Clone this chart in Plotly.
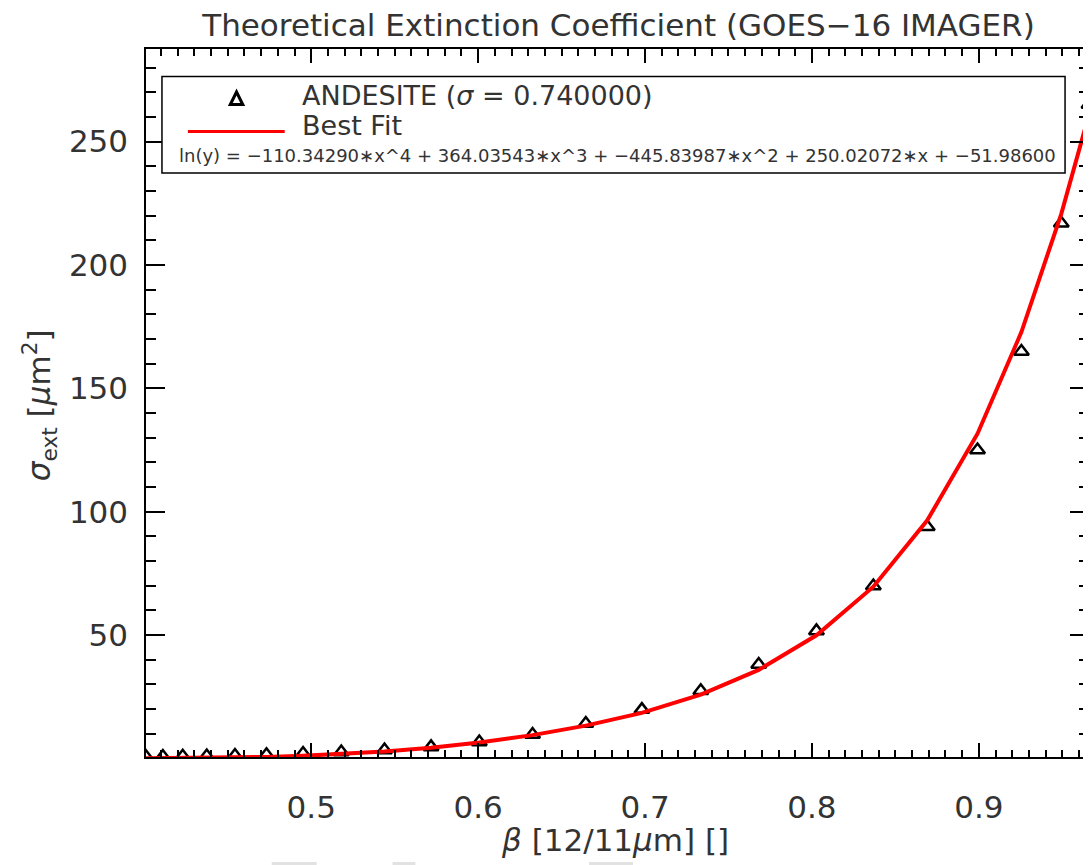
import plotly.graph_objects as go

beta = [0.401, 0.4111, 0.4230, 0.4374, 0.4543, 0.4732, 0.4951, 0.5180, 0.5439,
        0.5718, 0.6007, 0.6326, 0.6645, 0.6981, 0.7334, 0.7681, 0.8027, 0.8368,
        0.8691, 0.8992, 0.9255, 0.9494, 0.966]
sigma_ext = [0.7, 0.8, 0.9, 1.0, 1.2, 1.5, 2.0, 2.6, 3.4,
             4.7, 6.7, 9.7, 14.2, 19.8, 27.4, 38.1, 51.7, 69.9,
             93.9, 125.0, 164.9, 216.9, 265.0]
best_fit = [0.063, 0.090, 0.138, 0.223, 0.373, 0.626, 1.07, 1.73, 2.79,
            4.34, 6.45, 9.46, 13.3, 18.5, 25.9, 35.9, 49.9, 69.6,
            96.5, 131.6, 172.8, 220.7, 261.0]

series_name = "ANDESITE (<i>σ</i> = 0.740000)"
fit_name = "Best Fit"
fit_text = ("ln(y) = −110.34290∗x^4 + 364.03543∗x^3 + −445.83987∗x^2 + "
            "250.02072∗x + −51.98600")

FONT = "DejaVu Sans"
TXT = "#333333"
OFF = 8  # the page body adds an 8px margin, so work in screen pixels minus that
W, H = 1091 - OFF, 865 - OFF
L, R, T, B = 146 - OFF, 0, 49 - OFF, 108
PW, PH = W - L - R, H - T - B


def px(x):
    return (x - OFF - L) / PW


def py(y):
    return (H - B - (y - OFF)) / PH


fig = go.Figure()
fig.add_trace(go.Scatter(
    x=beta, y=sigma_ext, mode="markers", name=series_name,
    marker=dict(symbol="triangle-up-open", size=13, color="black",
                line=dict(color="black", width=2.5)),
    showlegend=False,
))
fig.add_trace(go.Scatter(
    x=beta, y=best_fit, mode="lines", name=fit_name,
    line=dict(color="#ff0000", width=4),
    showlegend=False,
))

axis_common = dict(
    showline=True, linecolor="black", linewidth=1.5, mirror="ticks",
    ticks="inside", tickcolor="black", tickwidth=1.5,
    showgrid=False, zeroline=False,
    tickfont=dict(family=FONT, size=31, color=TXT),
)
fig.update_xaxes(range=[0.401, 0.966], tick0=0, dtick=0.1, ticklen=14,
                 minor=dict(dtick=0.01, ticklen=7, ticks="inside",
                            tickcolor="black", tickwidth=1.5, showgrid=False),
                 ticklabelstandoff=22, **axis_common)
fig.update_yaxes(range=[0.6, 287.5], tick0=0, dtick=50, ticklen=19,
                 minor=dict(dtick=10, ticklen=10, ticks="inside",
                            tickcolor="black", tickwidth=1.5, showgrid=False),
                 ticklabelstandoff=10, **axis_common)

shapes = [
    # legend frame
    dict(type="rect", xref="paper", yref="paper",
         x0=px(162), x1=px(1067), y0=py(173), y1=py(76.5),
         line=dict(color="black", width=1.5), fillcolor="white", layer="above"),
    # legend symbol (triangle)
    dict(type="path", xref="paper", yref="paper",
         path="M {:.4f},{:.4f} L {:.4f},{:.4f} L {:.4f},{:.4f} Z".format(
             px(230.5), py(104.5), px(243), py(104.5), px(236.7), py(92)),
         line=dict(color="black", width=3), layer="above"),
    # legend line
    dict(type="line", xref="paper", yref="paper",
         x0=px(188), x1=px(285), y0=py(131.5), y1=py(131.5),
         line=dict(color="#ff0000", width=3), layer="above"),
]
# faint grey strips along the bottom edge of the original image
for x0, x1 in [(272, 317), (393, 416), (590, 634)]:
    shapes.append(dict(type="rect", xref="paper", yref="paper",
                       x0=px(x0), x1=px(x1), y0=py(865), y1=py(862),
                       line=dict(width=0), fillcolor="#e2e2e2"))

annotations = [
    dict(text=series_name, x=px(300), y=py(96), xref="paper", yref="paper",
         xanchor="left", yanchor="middle", showarrow=False,
         font=dict(family=FONT, size=27, color=TXT)),
    dict(text=fit_name, x=px(300), y=py(125), xref="paper", yref="paper",
         xanchor="left", yanchor="middle", showarrow=False,
         font=dict(family=FONT, size=27, color=TXT)),
    dict(text=fit_text, x=px(177), y=py(155), xref="paper", yref="paper",
         xanchor="left", yanchor="middle", showarrow=False,
         font=dict(family=FONT, size=18, color=TXT)),
    dict(text="<i>β</i> [12/11<i>μ</i>m] []", x=px(616), y=py(840),
         xref="paper", yref="paper", xanchor="center", yanchor="middle",
         showarrow=False, font=dict(family=FONT, size=31, color=TXT)),
    dict(text="<i>σ</i><sub>ext</sub> [<i>μ</i>m<sup>2</sup>]", x=px(40), y=py(405),
         xref="paper", yref="paper", xanchor="center", yanchor="middle",
         textangle=-90, showarrow=False,
         font=dict(family=FONT, size=31, color=TXT)),
]

fig.update_layout(
    width=W, height=H,
    margin=dict(l=L, r=R, t=T, b=B),
    paper_bgcolor="white", plot_bgcolor="white",
    title=dict(text="Theoretical Extinction Coefficient (GOES−16 IMAGER)",
               x=px(619.5), xref="paper", xanchor="center",
               y=1 - (25 - OFF) / H, yref="container", yanchor="middle",
               font=dict(family=FONT, size=31, color=TXT)),
    shapes=shapes,
    annotations=annotations,
)

fig.write_html("out.html")
